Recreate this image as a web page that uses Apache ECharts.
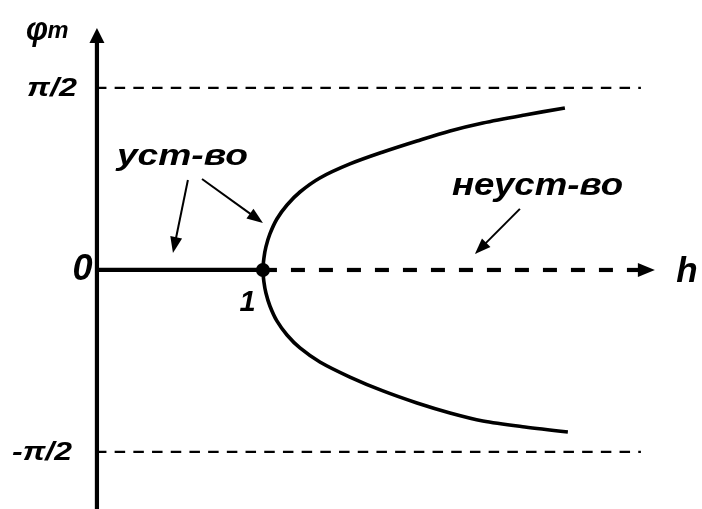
<!DOCTYPE html>
<html>
<head>
<meta charset="utf-8">
<script src="https://cdn.jsdelivr.net/npm/echarts@6/dist/echarts.min.js"></script>
<style>
  html, body { margin: 0; padding: 0; background: #fff; }
  #chart { width: 702px; height: 509px; }
</style>
</head>
<body>
<div id="chart"></div>
<script>
// Bifurcation diagram of the amplitude φm versus the parameter h.
const HALF_PI = Math.PI / 2;

// visible window of the plane (h horizontally, φ in radians vertically)
const hRange = [-0.584, 3.645];
const phiRange = [-2.063, 2.330];

// stable equilibrium φ = 0 for h < 1
const stableH = [0, 1];
const stablePhi = [0, 0];

// bifurcation point
const bifH = [1];
const bifPhi = [0];

// upper branch
const upperH   = [1.000, 1.006, 1.018, 1.042, 1.084, 1.145, 1.223, 1.343, 1.524, 1.723, 1.928, 2.127, 2.325, 2.578, 2.819];
const upperPhi = [0, 0.104, 0.199, 0.311, 0.440, 0.561, 0.673, 0.794, 0.915, 1.018, 1.113, 1.200, 1.269, 1.338, 1.398];

// lower branch
const lowerH   = [1.000, 1.006, 1.018, 1.042, 1.084, 1.145, 1.223, 1.343, 1.524, 1.723, 1.928, 2.127, 2.325, 2.578, 2.837];
const lowerPhi = [0, -0.104, -0.199, -0.311, -0.440, -0.561, -0.673, -0.794, -0.924, -1.044, -1.148, -1.234, -1.303, -1.355, -1.398];

// asymptotes φ = ±π/2 and their horizontal extent
const asymptoteLevels = [HALF_PI, -HALF_PI];
const asymptoteSpan = [-0.006, 3.277];

// axes: φ axis (bottom to tip) and the unstable part of the h axis (from 1 to tip)
const phiAxisH = [0, 0];
const phiAxisPhi = [-2.063, 2.089];
const hAxisH = [1, 3.361];
const hAxisPhi = [0, 0];

// pointers from the captions
const pointerFromH = [0.548, 0.633, 2.548];
const pointerFromPhi = [0.777, 0.785, 0.527];
const pointerToH = [0.458, 1.000, 2.277];
const pointerToPhi = [0.147, 0.406, 0.138];

// captions
const captionTexts = ['φ', 'm', 'π/2', '-π/2', '0', '1', 'h', 'уст-во', 'неуст-во'];

const zip = (a, b) => a.map((v, i) => [v, b[i]]);

const branch = zip(upperH, upperPhi).reverse().concat(zip(lowerH, lowerPhi).slice(1));

function arrowRenderer(headLen, headWidth, lineWidth, dash) {
  return function (params, api) {
    const p1 = api.coord([api.value(0), api.value(1)]);
    const p2 = api.coord([api.value(2), api.value(3)]);
    const dx = p2[0] - p1[0], dy = p2[1] - p1[1];
    const len = Math.hypot(dx, dy);
    const ux = dx / len, uy = dy / len;
    const bx = p2[0] - ux * headLen, by = p2[1] - uy * headLen;
    const nx = -uy * headWidth / 2, ny = ux * headWidth / 2;
    return {
      type: 'group',
      children: [
        { type: 'line', shape: { x1: p1[0], y1: p1[1], x2: bx + ux, y2: by + uy },
          style: { stroke: '#000', lineWidth: lineWidth, lineDash: dash || null, fill: null } },
        { type: 'polygon', shape: { points: [[p2[0], p2[1]], [bx + nx, by + ny], [bx - nx, by - ny]] },
          style: { fill: '#000' } }
      ]
    };
  };
}

const chart = echarts.init(document.getElementById('chart'), null, { renderer: 'canvas' });

const series = [];

asymptoteLevels.forEach(level => {
  series.push({
    type: 'line', silent: true, symbol: 'none', clip: false,
    data: asymptoteSpan.map(h => [h, level]),
    lineStyle: { color: '#000', width: 2.2, type: [10.5, 8.2] },
    z: 1
  });
});

series.push({
  type: 'line', silent: true, symbol: 'none', clip: false,
  data: zip(stableH, stablePhi),
  lineStyle: { color: '#000', width: 4.2, cap: 'butt' },
  z: 3
});

series.push({
  type: 'line', silent: true, symbol: 'none', clip: false, smooth: 0.3,
  data: branch,
  lineStyle: { color: '#000', width: 3.6 },
  z: 3
});

// φ axis
series.push({
  type: 'custom', silent: true, clip: false,
  renderItem: arrowRenderer(15, 15, 4.2),
  encode: { x: [0, 2], y: [1, 3] },
  data: [[phiAxisH[0], phiAxisPhi[0], phiAxisH[1], phiAxisPhi[1]]],
  z: 4
});

// dashed h axis beyond the bifurcation point
series.push({
  type: 'custom', silent: true, clip: false,
  renderItem: arrowRenderer(17, 14, 4.2, [14, 14]),
  encode: { x: [0, 2], y: [1, 3] },
  data: [[hAxisH[0], hAxisPhi[0], hAxisH[1], hAxisPhi[1]]],
  z: 2
});

// caption pointers
series.push({
  type: 'custom', silent: true, clip: false,
  renderItem: arrowRenderer(16, 12, 2),
  encode: { x: [0, 2], y: [1, 3] },
  data: pointerFromH.map((h, i) => [h, pointerFromPhi[i], pointerToH[i], pointerToPhi[i]]),
  z: 4
});

series.push({
  type: 'scatter', silent: true, clip: false,
  data: zip(bifH, bifPhi),
  symbol: 'circle', symbolSize: 14,
  itemStyle: { color: '#000', opacity: 1 },
  z: 6
});

chart.setOption({
  animation: false,
  backgroundColor: '#fff',
  grid: { left: 0, right: 0, top: 0, bottom: 0 },
  xAxis: { type: 'value', min: hRange[0], max: hRange[1], show: false, splitLine: { show: false } },
  yAxis: { type: 'value', min: phiRange[0], max: phiRange[1], show: false, splitLine: { show: false } },
  series: series
});

// caption placement (anchor in h, φ), font size and drawn width
const captionLayout = {
  'φ':        { at: [-0.361, 2.070], size: 34, width: 22 },
  'm':        { at: [-0.234, 2.058], size: 23, width: 21 },
  'π/2':      { at: [-0.271, 1.560], size: 25, width: 50 },
  '-π/2':     { at: [-0.331, -1.580], size: 25, width: 60 },
  '0':        { at: [-0.087, 0], size: 36 },
  '1':        { at: [0.907, -0.289], size: 29 },
  'h':        { at: [3.554, -0.022], size: 35 },
  'уст-во':   { at: [0.515, 0.980], size: 30, width: 131 },
  'неуст-во': { at: [2.654, 0.726], size: 32, width: 171 }
};

const measureCtx = document.createElement('canvas').getContext('2d');
const fontOf = size => 'italic bold ' + size + 'px "Liberation Sans", Arial, sans-serif';

const graphics = captionTexts.map(text => {
  const cfg = captionLayout[text];
  const pos = chart.convertToPixel({ xAxisIndex: 0, yAxisIndex: 0 }, cfg.at);
  measureCtx.font = fontOf(cfg.size);
  const natural = measureCtx.measureText(text).width;
  const sx = cfg.width ? cfg.width / natural : 1;
  return {
    type: 'text', x: pos[0], y: pos[1], scaleX: sx, silent: true, z: 10,
    style: { text: text, font: fontOf(cfg.size), fill: '#000', align: 'center', verticalAlign: 'middle' }
  };
});

chart.setOption({ graphic: graphics });
</script>
</body>
</html>
